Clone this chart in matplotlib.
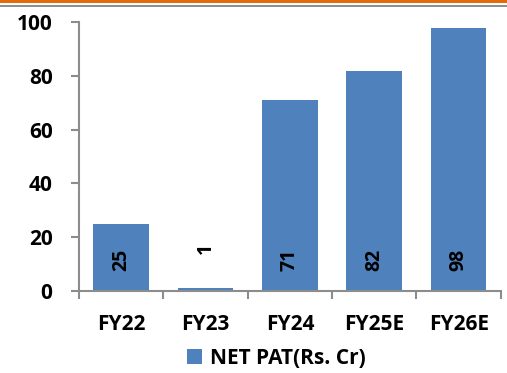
import matplotlib.pyplot as plt
from matplotlib.patches import Patch
from matplotlib.lines import Line2D

# Net PAT by fiscal year (Rs. Cr)
years = ['FY22', 'FY23', 'FY24', 'FY25E', 'FY26E']
net_pat = [25, 1, 71, 82, 98]

bar_color = '#4F81BD'
axis_gray = '#8C8C8C'
font = 'Open Sans'
fsize = 15

plt.rcParams['font.family'] = [font, 'DejaVu Sans']
plt.rcParams['font.weight'] = 'bold'

fig = plt.figure(figsize=(5.07, 3.73), dpi=100)
ax = fig.add_axes([0.1558, 0.2206, 0.832, 0.7196])

x = list(range(len(years)))
ax.bar(x, net_pat, width=0.66, color=bar_color, zorder=2)

# value labels sit near the bar base; tiny bars get theirs just above
for xi, v in zip(x, net_pat):
    y = 11.5 if v >= 20 else v + 14.7
    ax.text(xi, y, str(v), rotation=90, ha='center', va='center',
            fontsize=fsize - 1, fontweight='bold', color='black', zorder=3)

ax.set_xlim(-0.5, len(years) - 0.5)
ax.set_ylim(0, 100)
ax.set_yticks(range(0, 101, 20))
ax.set_xticks(x)
ax.set_xticklabels(years)
ax.set_xticks([i - 0.5 for i in range(len(years) + 1)], minor=True)

for side in ['top', 'right']:
    ax.spines[side].set_visible(False)
for side in ['left', 'bottom']:
    ax.spines[side].set_color(axis_gray)
    ax.spines[side].set_linewidth(1.5)

ax.tick_params(axis='y', length=6, width=1.5, color=axis_gray, pad=13,
               labelsize=fsize, labelcolor='black')
ax.tick_params(axis='x', which='major', length=0, pad=17,
               labelsize=fsize, labelcolor='black')
ax.tick_params(axis='x', which='minor', length=6, width=1.5, color=axis_gray)
for lbl in ax.get_xticklabels() + ax.get_yticklabels():
    lbl.set_fontweight('bold')

handle = Patch(facecolor=bar_color, edgecolor='none')
fig.legend([handle], ['NET PAT(Rs. Cr)'], loc='center',
           bbox_to_anchor=(276.5 / 507, 1 - 358 / 373), frameon=False,
           prop={'family': font, 'weight': 'bold', 'size': fsize},
           handlelength=0.72, handleheight=0.72, handletextpad=0.4)

# header rules across the top
fig.add_artist(Line2D([0, 1], [1 - 1 / 373, 1 - 1 / 373], color='#E36C0A',
                      linewidth=2.2, transform=fig.transFigure))
fig.add_artist(Line2D([0, 1], [1 - 5.5 / 373, 1 - 5.5 / 373], color=axis_gray,
                      linewidth=1.4, transform=fig.transFigure))

fig.savefig('out.png', dpi=100)
